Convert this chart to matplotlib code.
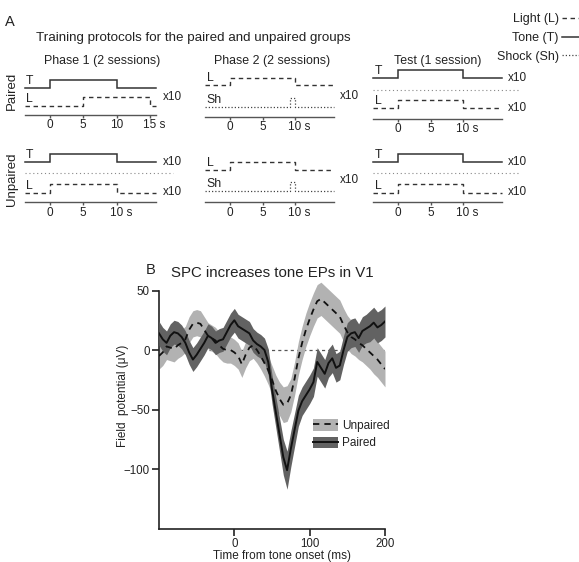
import matplotlib
matplotlib.use('Agg')
import matplotlib.pyplot as plt
from matplotlib.lines import Line2D
from matplotlib.patches import Patch

plt.rcParams['font.family'] = ['Liberation Sans', 'DejaVu Sans']
plt.rcParams['text.color'] = '#222222'
plt.rcParams['axes.labelcolor'] = '#222222'
plt.rcParams['xtick.color'] = '#222222'
plt.rcParams['ytick.color'] = '#222222'

# ---------------- Data: panel A (protocol timings, seconds) ----------------
tone_interval = [0, 10]
light_paired_phase1 = [5, 15]
light_interval = [0, 10]
shock_interval = [9.2, 10]
ticks_long = [0, 5, 10, 15]
ticks_short = [0, 5, 10]
trial_window = [-3.8, 16.0]
separator_window = [-3.8, 18.5]
repeat_label = 'x10'
column_titles = ['Phase 1 (2 sessions)', 'Phase 2 (2 sessions)', 'Test (1 session)']
group_names = ['Paired', 'Unpaired']
key_labels = ['Light (L)', 'Tone (T)', 'Shock (Sh)']

# ---------------- Data: panel B ----------------
time_ms = [-100, -95, -90, -85, -80, -75, -70, -65, -60, -55,
           -50, -45, -40, -35, -30, -25, -20, -15, -10, -5,
           0, 5, 10, 15, 20, 25, 30, 35, 40, 45,
           50, 55, 60, 65, 70, 75, 80, 85, 90, 95,
           100, 105, 110, 115, 120, 125, 130, 135, 140, 145,
           150, 155, 160, 165, 170, 175, 180, 185, 190, 195, 200]
paired_uv = [14, 9, 6, 12, 15, 14, 11, 6, -2, -8,
             -4, 1, 6, 12, 10, 6, 8, 9, 15, 21,
             25, 20, 18, 16, 14, 8, 5, 3, 0, -10,
             -33, -52, -71, -90, -101, -83, -67, -51, -43, -38,
             -33, -27, -10, -15, -20, -11, -7, -15, -13, 0,
             11, 14, 15, 10, 16, 18, 20, 23, 19, 21, 24]
paired_sem = [10, 10, 10, 10, 10, 10, 10, 10, 10, 10,
              10, 10, 10, 10, 10, 10, 10, 10, 10, 10,
              10, 10, 10, 10, 10, 10, 10, 10, 10, 11,
              12, 13, 14, 15, 16, 15, 14, 13, 12, 12,
              12, 12, 12, 12, 12, 12, 12, 12, 12, 12,
              12, 12, 12, 12, 12, 12, 13, 13, 13, 13, 13]
unpaired_uv = [-5, -2, 3, 2, 1, 4, 6, 9, 17, 22,
               23, 22, 17, 12, 10, 8, 4, 1, 0, 0,
               -2, -5, -12, -4, 2, 4, 0, -5, -11, -17,
               -25, -34, -41, -46, -45, -38, -24, -7, 6, 17,
               26, 34, 41, 43, 40, 37, 34, 31, 28, 21,
               15, 11, 9, 6, 4, 1, -2, -5, -8, -12, -16]
unpaired_sem = [11, 11, 11, 11, 11, 11, 11, 11, 11, 11,
                11, 11, 11, 11, 11, 11, 11, 11, 11, 11,
                11, 11, 11, 11, 11, 11, 11, 11, 11, 12,
                12, 13, 14, 15, 15, 14, 14, 14, 14, 14,
                14, 14, 14, 14, 14, 14, 14, 14, 14, 14,
                14, 14, 14, 14, 14, 14, 14, 15, 15, 15, 15]

# ---------------- Figure ----------------
W, H = 579, 562
fig = plt.figure(figsize=(W / 100, H / 100), dpi=100)


def frac_rect(l, t, r, b):
    return [l / W, 1 - b / H, (r - l) / W, (b - t) / H]


overlay = fig.add_axes([0, 0, 1, 1])
overlay.set_xlim(0, W)
overlay.set_ylim(H, 0)
overlay.axis('off')

INK = '#222222'
AXC = '#555555'
DASH = (0, (3.2, 2.6))

overlay.text(10, 22, 'A', fontsize=10.5, ha='center', va='center')
overlay.text(36, 38.5, 'Training protocols for the paired and unpaired groups',
             fontsize=9.6, ha='left', va='center')
for cx, title in zip([102, 272, 437.5], column_titles):
    overlay.text(cx, 61, title, fontsize=8.9, ha='center', va='center')
for cy, name in zip([91, 179], group_names):
    overlay.text(12, cy, name, fontsize=9.5, rotation=90, ha='center', va='center')


def step_xy(interval, low, high):
    t0, t1 = trial_window
    on, off = interval
    return [t0, on, on, off, off, t1], [low, low, high, high, low, low]


def draw_tone(ax, low, high):
    x, y = step_xy(tone_interval, low, high)
    ax.plot(x, y, color='#333333', lw=1.1, solid_joinstyle='miter')
    ax.text(trial_window[0] + 0.2, low - 1.0, 'T', fontsize=8.8, ha='left', va='bottom')


def draw_light(ax, interval, low, high):
    x, y = step_xy(interval, low, high)
    ax.plot(x, y, color='#333333', lw=1.0, linestyle=DASH)
    ax.text(trial_window[0] + 0.2, low - 1.0, 'L', fontsize=8.8, ha='left', va='bottom')


def draw_shock(ax, low, high):
    x, y = step_xy(shock_interval, low, high)
    ax.plot(x, y, color='#444444', lw=0.9, linestyle=(0, (1, 1.6)))
    ax.text(trial_window[0] + 0.2, low - 1.0, 'Sh', fontsize=8.8, ha='left', va='bottom')


def draw_separator(ax, y):
    ax.plot(separator_window, [y, y], color='#888888', lw=0.8, linestyle=(0, (1, 2.5)))


def draw_axis(ax, y, ticks):
    ax.plot(trial_window, [y, y], color=AXC, lw=1.0)
    ax.vlines(ticks, y, y + 3, color=AXC, lw=1.0)
    for tk in ticks[:-1]:
        ax.text(tk, y + 10.5, str(tk), fontsize=8.5, ha='center', va='center')
    ax.annotate(f'{ticks[-1]} s', xy=(ticks[-1], y + 10.5), xytext=(-4.8, 0),
                textcoords='offset points', fontsize=8.5, ha='left', va='center')


def repeat(ax, y):
    ax.text(16.9, y, repeat_label, fontsize=8.5, ha='left', va='center')


def column_axes(left_px, right_px, zero_px, px_per_s):
    ax = fig.add_axes(frac_rect(left_px, 50, right_px, 225))
    ax.set_xlim((left_px - zero_px) / px_per_s, (right_px - zero_px) / px_per_s)
    ax.set_ylim(225, 50)
    ax.axis('off')
    return ax


# Column 1: Phase 1
c1 = column_axes(20, 200, 50, 6.65)
draw_tone(c1, 88, 80)
draw_light(c1, light_paired_phase1, 106, 97)
repeat(c1, 97)
draw_axis(c1, 115, ticks_long)
draw_tone(c1, 162, 154)
repeat(c1, 162)
draw_separator(c1, 173)
draw_light(c1, light_interval, 193, 184)
repeat(c1, 192)
draw_axis(c1, 202, ticks_short)

# Column 2: Phase 2
c2 = column_axes(200, 375, 230, 6.5)
draw_light(c2, light_interval, 85, 78)
draw_shock(c2, 107, 98)
repeat(c2, 96)
draw_axis(c2, 117, ticks_short)
draw_light(c2, light_interval, 170, 162)
draw_shock(c2, 191, 182)
repeat(c2, 180)
draw_axis(c2, 202, ticks_short)

# Column 3: Test
c3 = column_axes(368, 545, 398, 6.5)
draw_tone(c3, 78, 70)
repeat(c3, 78)
draw_separator(c3, 90)
draw_light(c3, light_interval, 108, 100)
repeat(c3, 108)
draw_axis(c3, 119, ticks_short)
draw_tone(c3, 162, 154)
repeat(c3, 162)
draw_separator(c3, 173)
draw_light(c3, light_interval, 193, 184)
repeat(c3, 192)
draw_axis(c3, 202, ticks_short)

# Key (top right)
key_handles = [Line2D([], [], color='#333333', lw=1.0, linestyle=DASH),
               Line2D([], [], color='#333333', lw=1.1),
               Line2D([], [], color='#444444', lw=0.9, linestyle=(0, (1, 1.6)))]
fig.legend(key_handles, key_labels, markerfirst=False, loc='upper right',
           bbox_to_anchor=(587 / W, 1 - 13 / H), bbox_transform=fig.transFigure,
           frameon=False, fontsize=9, handlelength=2.0, handletextpad=0.25,
           labelspacing=0.55, borderpad=0, borderaxespad=0)

# ---------------- Panel B ----------------
overlay.text(151, 270, 'B', fontsize=10.5, ha='center', va='center')

ax = fig.add_axes(frac_rect(159, 281, 385, 528.5))
UNP_FILL = '#b2b2b2'
PAI_FILL = '#626262'

unp_lo = [m - s for m, s in zip(unpaired_uv, unpaired_sem)]
unp_hi = [m + s for m, s in zip(unpaired_uv, unpaired_sem)]
pai_lo = [m - s for m, s in zip(paired_uv, paired_sem)]
pai_hi = [m + s for m, s in zip(paired_uv, paired_sem)]

ax.axhline(0, color='#555555', lw=0.9, linestyle=(0, (2.5, 2.5)), zorder=1)
ax.fill_between(time_ms, unp_lo, unp_hi, color=UNP_FILL, lw=0, zorder=2)
ax.fill_between(time_ms, pai_lo, pai_hi, color=PAI_FILL, lw=0, zorder=3)
ax.plot(time_ms, unpaired_uv, color='#111111', lw=1.3, linestyle=(0, (3.5, 2.8)), zorder=4)
ax.plot(time_ms, paired_uv, color='#111111', lw=1.4, zorder=5)

ax.set_xlim(-100, 200)
ax.set_ylim(-150, 58)
ax.spines['top'].set_visible(False)
ax.spines['right'].set_visible(False)
ax.spines['left'].set_bounds(-150, 50)
ax.spines['bottom'].set_bounds(-100, 200)
for sp in ('left', 'bottom'):
    ax.spines[sp].set_linewidth(1.2)
    ax.spines[sp].set_color('#222222')
ax.set_xticks([0, 100, 200])
ax.set_yticks([50, 0, -50, -100])
ax.set_yticklabels(['50', '0', '\u221250', '\u2212100'])
ax.tick_params(axis='both', direction='out', length=5, width=1.2, labelsize=8.3, pad=1.5)
ax.set_title('SPC increases tone EPs in V1', fontsize=10.8, pad=3)
ax.set_xlabel('Time from tone onset (ms)', fontsize=8.5)
ax.xaxis.set_label_coords((282 - 159) / 226, (528.5 - 549.5) / 247.5)
ax.set_ylabel('Field  potential (\u03bcV)', fontsize=8.5)
ax.yaxis.set_label_coords((129 - 159) / 226, (528.5 - 396) / 247.5)

leg_handles = [(Patch(facecolor=UNP_FILL, edgecolor='none'),
                Line2D([], [], color='#111111', lw=1.3, linestyle=(0, (3.5, 2.8)))),
               (Patch(facecolor=PAI_FILL, edgecolor='none'),
                Line2D([], [], color='#111111', lw=1.4))]
ax.legend(leg_handles, ['Unpaired', 'Paired'], loc='upper left',
          bbox_to_anchor=((313 - 159) / 226, (528.5 - 419) / 247.5),
          frameon=False, fontsize=8.5, handlelength=2.1, handleheight=1.15,
          handletextpad=0.35, labelspacing=0.4, borderpad=0, borderaxespad=0)

fig.savefig('out.png', dpi=100)
